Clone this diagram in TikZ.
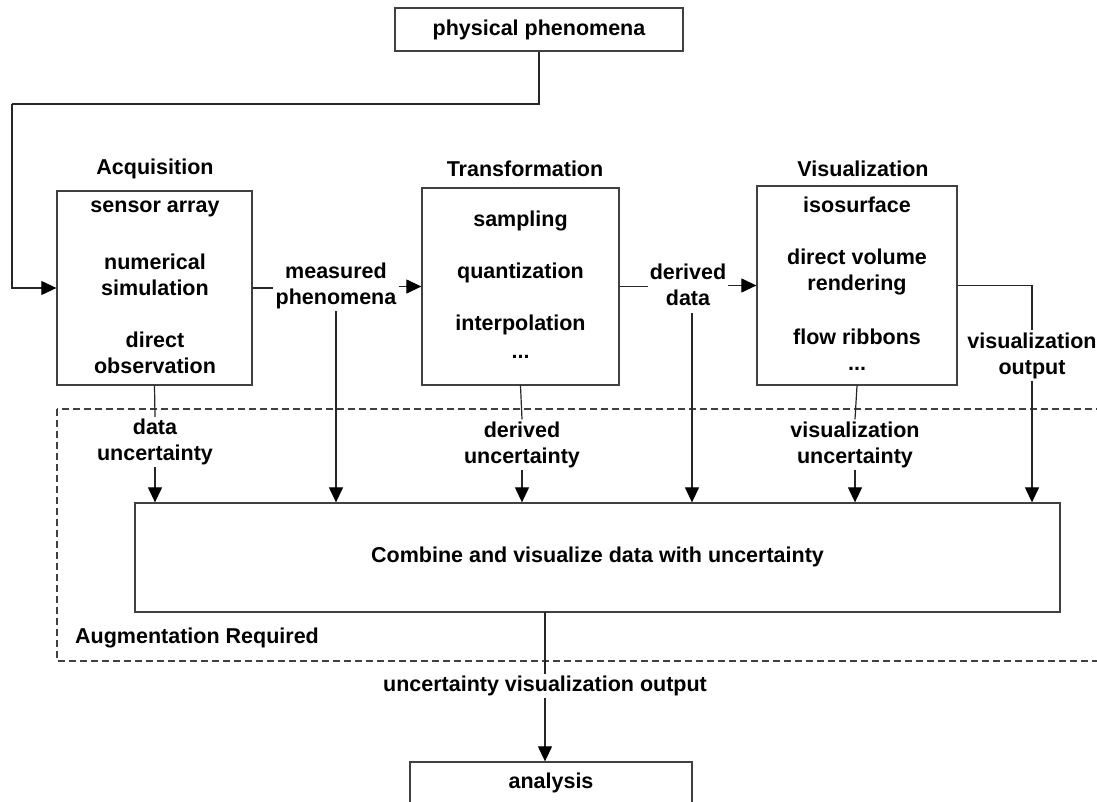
\documentclass[tikz,border=0pt]{standalone}
\usepackage{fontspec}
\setmainfont{Liberation Sans}
\usetikzlibrary{arrows.meta}
\begin{document}
\begin{tikzpicture}[x=1pt,y=-1pt,
  txt/.style={font=\fontsize{21.5}{26}\selectfont\bfseries, align=center, inner sep=2pt, text=black},
  box/.style={draw=black!75, line width=1.3pt, inner sep=0pt},
  ln/.style={draw=black!85, line width=1.2pt},
  arr/.style={ln, -{Triangle[length=15pt,width=14pt,fill=black,color=black]}}
]
\useasboundingbox (0,0) rectangle (1097,802);
\clip (0,0) rectangle (1097,802);
\fill[white] (0,0) rectangle (1097,802);

% boxes
\node[box, minimum width=288pt, minimum height=43pt] (phys) at (539,29.5) {};
\node[txt] (physt) at (539,29.5) {physical phenomena};

\node[box, minimum width=195pt, minimum height=194pt] (acq) at (154.5,288) {};
\node[box, minimum width=197pt, minimum height=197pt] (trans) at (520.5,286.5) {};
\node[box, minimum width=200pt, minimum height=199pt] (vis) at (857,285.5) {};
\node[box, minimum width=925pt, minimum height=109pt] (comb) at (597.5,557.5) {};
\node[box, minimum width=282pt, minimum height=80pt] (ana) at (551,802) {};

% titles
\node[txt] (acqT) at (155,169) {Acquisition};
\node[txt] (transT) at (525,169) {Transformation};
\node[txt] (visT) at (863,169) {Visualization};

% box contents
\node[txt] (a1) at (155,209) {sensor array};
\node[txt] (a2) at (155,274.5) {numerical\\simulation};
\node[txt] (a3) at (155,353) {direct\\observation};

\node[txt] (t1) at (520.5,221) {sampling};
\node[txt] (t2) at (520.5,273) {quantization};
\node[txt] (t3) at (520.5,325) {interpolation};
\node[txt] (t4) at (520.5,357) {...};

\node[txt] (v1) at (857,205) {isosurface};
\node[txt] (v2) at (857,271.5) {direct volume\\rendering};
\node[txt] (v3) at (857,337) {flow ribbons};
\node[txt] (v4) at (857,369) {...};

\node[txt] (combt) at (597.5,557) {Combine and visualize data with uncertainty};
\node[txt] (anat) at (551,783) {analysis};

% connector labels
\node[txt] (meas) at (336,286) {measured\\phenomena};
\node[txt] (derd) at (688,285) {derived\\data};
\node[txt] (viso) at (1032,355.5) {visualization\\output};
\node[txt] (datu) at (155,442) {data\\uncertainty};
\node[txt] (deru) at (522,444.5) {derived\\uncertainty};
\node[txt] (visu) at (855,444.5) {visualization\\uncertainty};
\node[txt] (uvo) at (545,686) {uncertainty visualization output};
\node[txt, anchor=west] (augt) at (73,638) {Augmentation Required};

% dashed region
\draw[black!75, line width=1.1pt, dash pattern=on 7pt off 4pt] (57,409) rectangle (1120,661);

% connectors
\coordinate (lt) at (12,104);
\draw[ln] (phys.south) |- (lt);
\draw[arr] (lt) |- (acq.west);

\draw[ln] (acq.east) -- (acq.east -| meas.west);
\draw[arr] (trans.west -| meas.east) -- (trans.west);
\draw[ln] (trans.east) -- (trans.east -| derd.west);
\draw[arr] (vis.west -| derd.east) -- (vis.west);

\coordinate (vr) at (1032,285.5);
\draw[ln] (vis.east) -- (vr) -- (viso.north);

\draw[ln] (acq.south) -- (datu.north);
\draw[arr] (datu.south) -- (datu.south |- comb.north);
\draw[arr] (meas.south) -- (meas.south |- comb.north);
\draw[ln] (trans.south) -- (deru.north);
\draw[arr] (deru.south) -- (deru.south |- comb.north);
\coordinate (dd) at (692,313);
\draw[arr] (dd) -- (dd |- comb.north);
\draw[ln] (vis.south) -- (visu.north);
\draw[arr] (visu.south) -- (visu.south |- comb.north);
\draw[arr] (viso.south) -- (viso.south |- comb.north);

\coordinate (cb) at (545,612);
\draw[ln] (cb) -- (uvo.north);
\draw[arr] (uvo.south) -- (uvo.south |- ana.north);
\end{tikzpicture}
\end{document}
